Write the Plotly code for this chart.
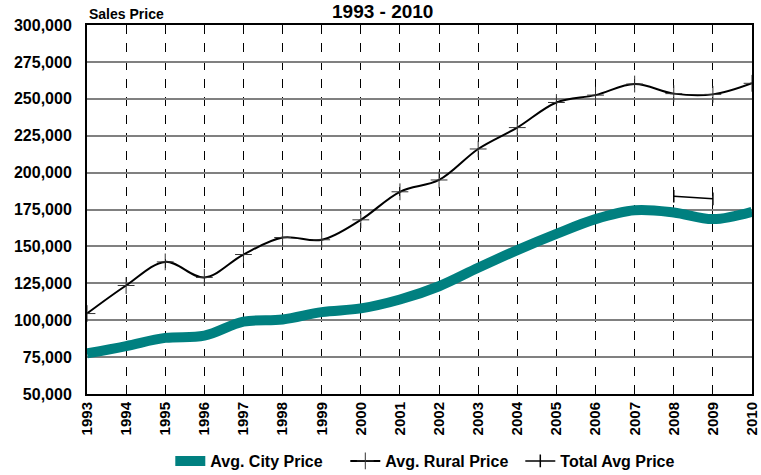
import plotly.graph_objects as go

years = list(range(1993, 2011))
city_price = [77500, 82500, 88000, 89500, 99000, 100500, 105500, 108000, 114000,
              123000, 135500, 147500, 158500, 168500, 174500, 173000, 168500, 173500]
rural_price = [104500, 123500, 139500, 129000, 144500, 156000, 154500, 168000, 187000,
               195000, 216000, 230500, 247500, 252500, 260000, 253500, 253000, 260500]
total_years = [2008, 2009]
total_avg = [184000, 182200]

FONT = "Liberation Sans, Arial, sans-serif"

W, H = 761, 475
ML, MT, MR, MB = 87, 24.5, 9, 80.5
PW, PH = W - ML - MR, H - MT - MB

fig = go.Figure()
fig.add_trace(go.Scatter(
    x=years, y=city_price, name="Avg. City Price", mode="lines",
    line=dict(color="#008080", width=10, shape="spline", smoothing=1.0),
))
fig.add_trace(go.Scatter(
    x=years, y=rural_price, name="Avg. Rural Price", mode="lines+markers",
    line=dict(color="black", width=2, shape="spline", smoothing=1.0),
    marker=dict(symbol="cross-thin", size=12, line=dict(color="#333333", width=1)),
))
fig.add_trace(go.Scatter(
    x=total_years, y=total_avg, name="Total Avg Price", mode="lines+markers",
    line=dict(color="black", width=1.5),
    marker=dict(symbol="line-ns", size=9, line=dict(color="black", width=1.5)),
))

fig.update_layout(
    width=W, height=H,
    margin=dict(l=ML, r=MR, t=MT, b=MB, autoexpand=False),
    paper_bgcolor="white", plot_bgcolor="white",
    font=dict(family=FONT, color="black"),
    showlegend=True,
    legend=dict(orientation="h", x=0.52, xanchor="center", xref="paper",
                y=(H - 461) / H, yanchor="middle", yref="container",
                font=dict(family=FONT, size=16, weight="bold", color="black"),
                itemwidth=30, tracegroupgap=0, entrywidth=130),
    annotations=[
        dict(text="<b>1993 - 2010</b>", x=(382 - ML) / PW, y=1 + (MT - 10.5) / PH,
             xref="paper", yref="paper", xanchor="center", yanchor="middle",
             showarrow=False, font=dict(family=FONT, size=19, color="black")),
        dict(text="<b>Sales Price</b>", x=0, y=1 + (MT - 13) / PH,
             xref="paper", yref="paper", xanchor="left", yanchor="middle",
             showarrow=False, font=dict(family=FONT, size=14, color="black")),
    ],
)

fig.update_xaxes(
    range=[1993, 2010], tickmode="array", tickvals=years, ticktext=[str(y) for y in years],
    tickangle=-90, tickfont=dict(family=FONT, size=15, weight="bold", color="black"),
    showgrid=True, gridcolor="black", gridwidth=1, griddash="dash",
    showline=True, linecolor="black", linewidth=2, mirror=True,
    ticks="", zeroline=False, automargin=False,
)
fig.update_yaxes(
    range=[50000, 300000], tickmode="array",
    tickvals=list(range(50000, 300001, 25000)), tickformat=",d",
    tickfont=dict(family=FONT, size=16, weight="bold", color="black"),
    ticklabelstandoff=10,
    showgrid=True, gridcolor="#808080", gridwidth=1.5,
    showline=True, linecolor="black", linewidth=2, mirror=True,
    ticks="", zeroline=False, automargin=False,
)

fig.write_html("out.html", config={"displayModeBar": False},
               post_script="document.body.style.margin='0';")
